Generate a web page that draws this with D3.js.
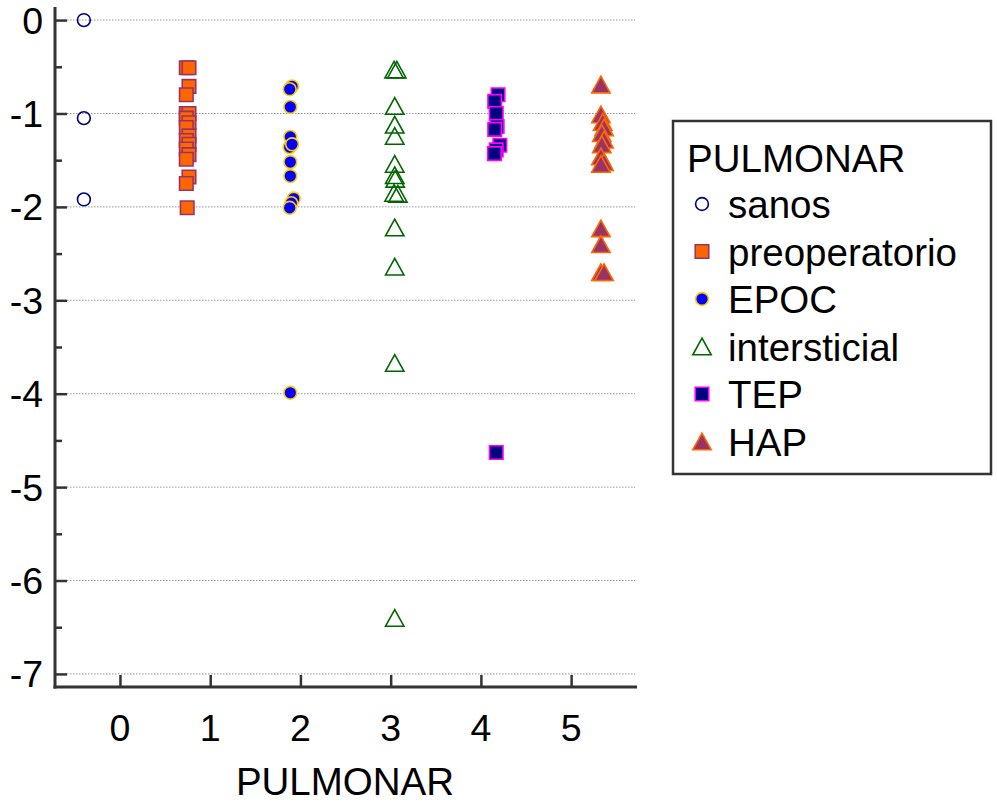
<!DOCTYPE html>
<html>
<head>
<meta charset="utf-8">
<script src="https://cdn.jsdelivr.net/npm/d3@7"></script>
<style>
  html, body { margin: 0; padding: 0; background: #fff; }
  svg { display: block; font-family: "Liberation Sans", Arial, sans-serif; }
</style>
</head>
<body>
<svg id="chart" width="997" height="804"></svg>
<script>
// ---- data ----
const categories = ["sanos", "preoperatorio", "EPOC", "intersticial", "TEP", "HAP"];
const legendLabels = ["sanos", "preoperatorio", "EPOC", "intersticial", "TEP", "HAP"];
const xTicks = [0, 1, 2, 3, 4, 5];
const yTicks = [0, -1, -2, -3, -4, -5, -6, -7];
const yMinorTicks = [-0.5, -1.5, -2.5, -3.5, -4.5, -5.5, -6.5];

const sanosX = [-0.40, -0.40, -0.40];
const sanosY = [0, -1.05, -1.92];

const preopX = [0.735, 0.765, 0.765, 0.735, 0.735, 0.765, 0.735, 0.765, 0.735, 0.765, 0.735, 0.765, 0.735, 0.765, 0.735, 0.765, 0.735, 0.745];
const preopY = [-0.51, -0.51, -0.71, -0.80, -1.00, -1.00, -1.05, -1.10, -1.15, -1.24, -1.29, -1.33, -1.38, -1.44, -1.49, -1.68, -1.75, -2.01];

const epocX = [1.907, 1.881, 1.888, 1.888, 1.880, 1.907, 1.888, 1.888, 1.926, 1.899, 1.881, 1.888];
const epocY = [-0.71, -0.74, -0.93, -1.25, -1.36, -1.33, -1.52, -1.67, -1.91, -1.96, -2.01, -3.99];

const interX = [3.038, 3.068, 3.045, 3.045, 3.045, 3.045, 3.045, 3.05, 3.038, 3.08, 3.045, 3.045, 3.045, 3.045];
const interY = [-0.53, -0.53, -0.92, -1.12, -1.24, -1.54, -1.66, -1.70, -1.85, -1.86, -2.22, -2.64, -3.67, -6.40];

const tepX = [4.19, 4.153, 4.17, 4.18, 4.153, 4.21, 4.17, 4.15, 4.17];
const tepY = [-0.80, -0.87, -1.00, -1.14, -1.17, -1.34, -1.39, -1.43, -4.63];

const hapX = [5.33, 5.33, 5.35, 5.365, 5.34, 5.365, 5.34, 5.33, 5.365, 5.33, 5.33, 5.33, 5.33, 5.365];
const hapY = [-0.69, -1.01, -1.09, -1.15, -1.21, -1.28, -1.33, -1.46, -1.52, -1.54, -2.23, -2.40, -2.70, -2.70];

const seriesX = [sanosX, preopX, epocX, interX, tepX, hapX];
const seriesY = [sanosY, preopY, epocY, interY, tepY, hapY];

// ---- styles ----
const styles = [
  { shape: "circle",   fill: "none",    stroke: "#000080" },
  { shape: "square",   fill: "#ff6600", stroke: "#993366" },
  { shape: "circle",   fill: "#0000ff", stroke: "#ffcc00" },
  { shape: "triangle", fill: "none",    stroke: "#006600" },
  { shape: "square",   fill: "#000080", stroke: "#ff00ff" },
  { shape: "triangle", fill: "#993366", stroke: "#ff6600" }
];

function shapePath(shape) {
  if (shape === "circle") return d3.symbol(d3.symbolCircle, Math.PI * 6.4 * 6.4)();
  if (shape === "square") return d3.symbol(d3.symbolSquare, 13.5 * 13.5)();
  // bounding-box centred triangle
  return "M0,-8.3L9.2,8.3L-9.2,8.3Z";
}

const svg = d3.select("#chart");
const pLeft = 55, pRight = 637, pTop = 7, pBottom = 687;

const x = d3.scaleLinear().domain([-0.72, 5.73]).range([pLeft, pRight]);
const y = d3.scaleLinear().domain([-7.14, 0.14]).range([pBottom, pTop]);

// gridlines
svg.append("g").selectAll("line").data(yTicks).join("line")
  .attr("x1", pLeft + 12).attr("x2", pRight - 2)
  .attr("y1", d => y(d)).attr("y2", d => y(d))
  .attr("stroke", "#999").attr("stroke-width", 1).attr("stroke-dasharray", "1.5,1.5");

// y axis
const yAxis = svg.append("g").attr("transform", `translate(${pLeft},0)`)
  .call(d3.axisRight(y).tickValues(yTicks).tickSize(12).tickFormat(""));
yAxis.select(".domain").remove();
yAxis.selectAll(".tick line").attr("stroke", "#333").attr("stroke-width", 2.5);
svg.append("g").attr("transform", `translate(${pLeft},0)`)
  .call(d3.axisRight(y).tickValues(yMinorTicks).tickSize(7).tickFormat(""))
  .call(g => g.select(".domain").remove())
  .call(g => g.selectAll(".tick line").attr("stroke", "#333").attr("stroke-width", 2.5));
svg.append("line").attr("x1", pLeft).attr("x2", pLeft).attr("y1", pTop).attr("y2", pBottom + 1.5)
  .attr("stroke", "#333").attr("stroke-width", 3);
svg.append("g").selectAll("text").data(yTicks).join("text")
  .attr("x", 43).attr("y", d => y(d) + 13.5)
  .attr("text-anchor", "end").attr("font-size", 37.5).attr("fill", "#000")
  .text(d => d === 0 ? "0" : "-" + Math.abs(d));

// x axis
const xAxis = svg.append("g").attr("transform", `translate(0,${pBottom})`)
  .call(d3.axisTop(x).tickValues(xTicks).tickSize(12).tickFormat(""));
xAxis.select(".domain").remove();
xAxis.selectAll(".tick line").attr("stroke", "#333").attr("stroke-width", 2.5);
svg.append("line").attr("x1", pLeft - 1.5).attr("x2", pRight).attr("y1", pBottom).attr("y2", pBottom)
  .attr("stroke", "#333").attr("stroke-width", 3);
svg.append("g").selectAll("text").data(xTicks).join("text")
  .attr("x", d => x(d)).attr("y", 741)
  .attr("text-anchor", "middle").attr("font-size", 37.5).attr("fill", "#000")
  .text(d => d);
svg.append("text").attr("x", 345).attr("y", 795).attr("text-anchor", "middle")
  .attr("font-size", 38.5).attr("fill", "#000").text("PULMONAR");

// points
seriesY.forEach((ys, i) => {
  const st = styles[i];
  const pts = ys.map((v, j) => ({ x: seriesX[i][j], y: v }));
  svg.append("g").selectAll("path").data(pts).join("path")
    .attr("d", shapePath(st.shape))
    .attr("transform", d => `translate(${x(d.x)},${y(d.y)})`)
    .attr("fill", st.fill).attr("stroke", st.stroke).attr("stroke-width", 1.6);
});

// legend
const lg = svg.append("g");
lg.append("rect").attr("x", 673).attr("y", 121).attr("width", 318).attr("height", 353)
  .attr("fill", "#fff").attr("stroke", "#333").attr("stroke-width", 2.5);
lg.append("text").attr("x", 687).attr("y", 172).attr("font-size", 38.5).attr("fill", "#000").text("PULMONAR");
legendLabels.forEach((lab, i) => {
  const cy = 204 + i * 47.5;
  const st = styles[i];
  lg.append("path").attr("d", shapePath(st.shape))
    .attr("transform", `translate(702,${cy})`)
    .attr("fill", st.fill).attr("stroke", st.stroke).attr("stroke-width", 1.6);
  lg.append("text").attr("x", 728).attr("y", cy + 14).attr("font-size", 38.5).attr("fill", "#000").text(lab);
});
</script>
</body>
</html>
